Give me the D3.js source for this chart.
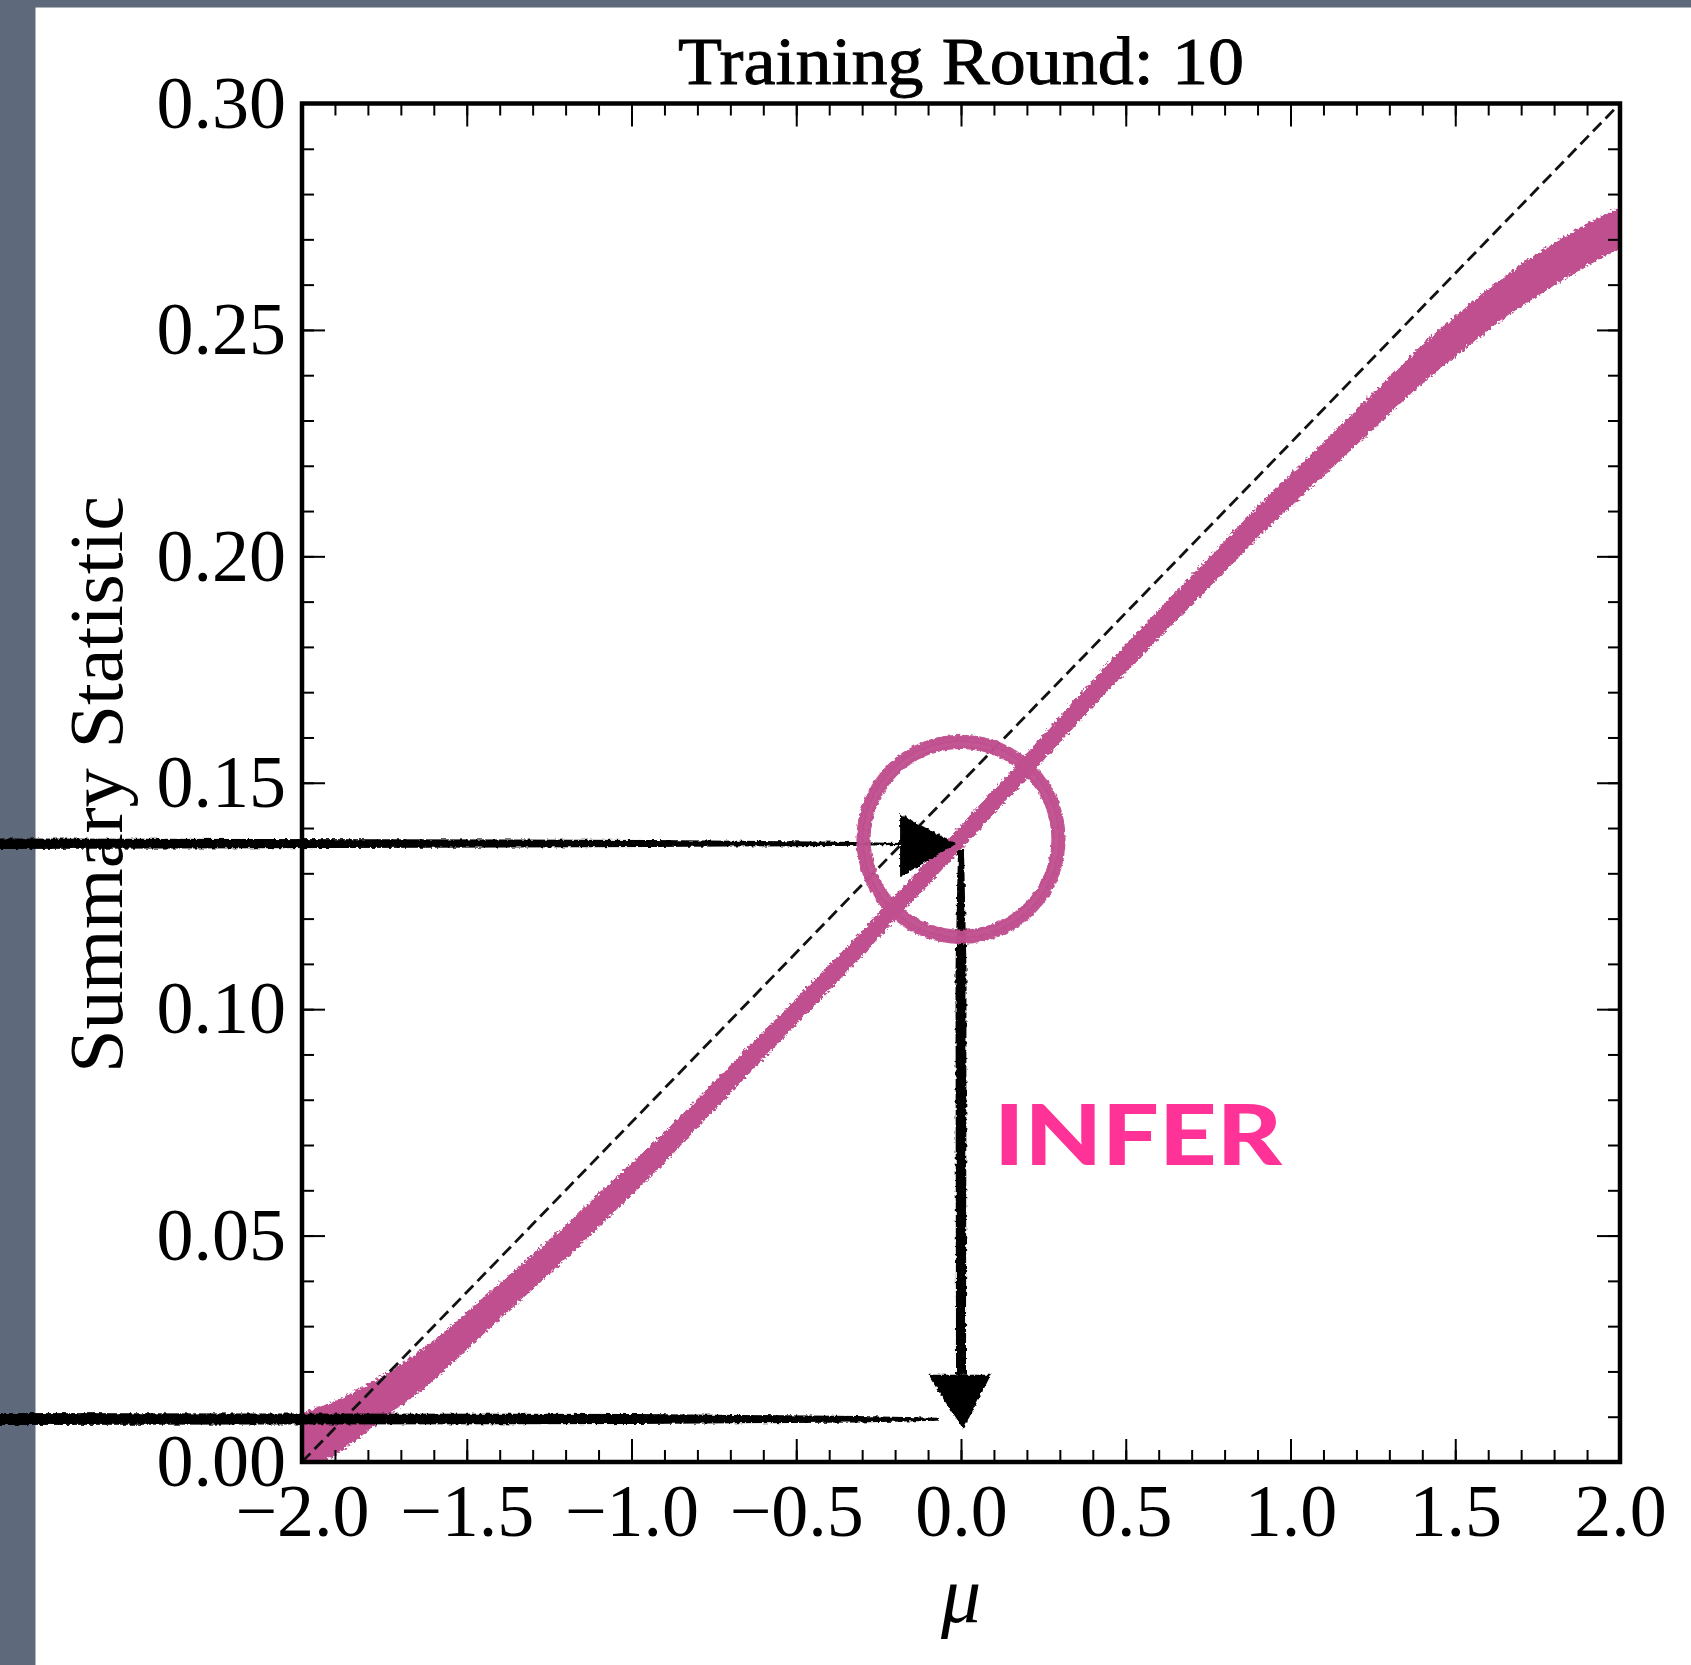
<!DOCTYPE html>
<html>
<head>
<meta charset="utf-8">
<script src="https://cdn.jsdelivr.net/npm/d3@7/dist/d3.min.js"></script>
<style>
  html, body { margin: 0; padding: 0; background: #ffffff; }
  svg { display: block; }
</style>
</head>
<body>
<svg id="chart" width="1691" height="1665"></svg>
<script>
// ---------------- DATA ----------------
const titleText = "Training Round: 10";
const xLabelText = "\u03bc";
const yLabelText = "Summary Statistic";
const xMajorTicks = [-2.0, -1.5, -1.0, -0.5, 0.0, 0.5, 1.0, 1.5, 2.0];
const yMajorTicks = [0.00, 0.05, 0.10, 0.15, 0.20, 0.25, 0.30];
const xMinorTicks = d3.range(-20, 21).map(d => d / 10);
const yMinorTicks = d3.range(0, 31).map(d => d / 100);

// summary-statistic band (centre and half width)
const muValues   = [-2.0, -1.9, -1.8, -1.7, -1.6, -1.5, -1.4, -1.3, -1.2, -1.1, -1.0,
                    -0.9, -0.8, -0.7, -0.6, -0.5, -0.4, -0.3, -0.2, -0.1, 0.0,
                     0.1, 0.2, 0.3, 0.4, 0.5, 0.6, 0.7, 0.8, 0.9, 1.0,
                     1.1, 1.2, 1.3, 1.4, 1.5, 1.6, 1.7, 1.8, 1.9, 2.0];
const statCenter = [0.0040, 0.0075, 0.0120, 0.0170, 0.0225, 0.0290, 0.0355, 0.0420, 0.0485, 0.0555, 0.0625,
                    0.0695, 0.0770, 0.0845, 0.0920, 0.0995, 0.1070, 0.1145, 0.1225, 0.1302, 0.1380,
                    0.1458, 0.1537, 0.1618, 0.1697, 0.1775, 0.1850, 0.1925, 0.2000, 0.2075, 0.2145,
                    0.2215, 0.2285, 0.2355, 0.2425, 0.2485, 0.2545, 0.2598, 0.2645, 0.2688, 0.2725];
const statSpread = [0.0068, 0.0060, 0.0052, 0.0047, 0.0044, 0.0042, 0.0040, 0.0039, 0.0038, 0.0037, 0.0036,
                    0.0034, 0.0032, 0.0031, 0.0030, 0.0029, 0.0028, 0.0028, 0.0027, 0.0027, 0.0027,
                    0.0027, 0.0028, 0.0029, 0.0030, 0.0031, 0.0032, 0.0033, 0.0034, 0.0035, 0.0036,
                    0.0037, 0.0039, 0.0041, 0.0043, 0.0045, 0.0046, 0.0047, 0.0047, 0.0047, 0.0046];

// identity (dashed) reference line endpoints
const refMu   = [-2.0, 2.0];
const refStat = [0.0, 0.3];

// annotation values
const observedStat = 0.1365;   // horizontal arrow level
const arrowTipMu   = -0.015;   // where horizontal arrow ends
const inferredMu   = 0.0;      // vertical arrow position
const inferTipStat = 0.0071;   // vertical arrow tip
const lowerStat    = 0.0095;   // lower horizontal stroke
const lowerEndMu   = -0.07;
const circleMu     = 0.0;
const circleStat   = 0.1375;
const circleRadMu  = 0.30;     // ring radius in mu units
const inferLabel   = "INFER";
const inferLabelMu = 0.10;
const inferLabelStat = 0.0655;

// ---------------- LAYOUT ----------------
const W = 1691, H = 1665;
const svg = d3.select("#chart");
const plotL = 302, plotR = 1620, plotT = 103.5, plotB = 1462;
const x = d3.scaleLinear().domain([-2, 2]).range([plotL, plotR]);
const y = d3.scaleLinear().domain([0, 0.3]).range([plotB, plotT]);

const serif = "'Liberation Serif', 'DejaVu Serif', serif";
const pink = "#c0508f";

// defs
const defs = svg.append("defs");
const rough = defs.append("filter").attr("id", "rough").attr("x", "-5%").attr("y", "-20%").attr("width", "110%").attr("height", "140%");
rough.append("feTurbulence").attr("type", "fractalNoise").attr("baseFrequency", "0.25").attr("numOctaves", 2).attr("seed", 4).attr("result", "n");
rough.append("feDisplacementMap").attr("in", "SourceGraphic").attr("in2", "n").attr("scale", 4).attr("xChannelSelector", "R").attr("yChannelSelector", "G");

const speck = defs.append("filter").attr("id", "speck").attr("x", "-5%").attr("y", "-5%").attr("width", "110%").attr("height", "110%");
speck.append("feTurbulence").attr("type", "fractalNoise").attr("baseFrequency", "0.35").attr("numOctaves", 2).attr("seed", 9).attr("result", "n");
speck.append("feDisplacementMap").attr("in", "SourceGraphic").attr("in2", "n").attr("scale", 7).attr("xChannelSelector", "R").attr("yChannelSelector", "G");

defs.append("clipPath").attr("id", "plotClip").append("rect")
  .attr("x", plotL).attr("y", plotT).attr("width", plotR - plotL).attr("height", plotB - plotT);

// background
svg.append("rect").attr("x", 0).attr("y", 0).attr("width", W).attr("height", H).attr("fill", "#ffffff");
svg.append("rect").attr("x", 0).attr("y", 0).attr("width", W).attr("height", 7.5).attr("fill", "#5e697b");
svg.append("rect").attr("x", 0).attr("y", 0).attr("width", 35.5).attr("height", H).attr("fill", "#5e697b");

// ---------------- BAND ----------------
const bandData = muValues.map((m, i) => ({ m, c: statCenter[i], s: statSpread[i] }));
const area = d3.area()
  .x(d => x(d.m))
  .y0(d => y(d.c - d.s))
  .y1(d => y(d.c + d.s))
  .curve(d3.curveCatmullRom);
const bandG = svg.append("g").attr("clip-path", "url(#plotClip)");
bandG.append("path").datum(bandData).attr("d", area)
  .attr("fill", pink).attr("filter", "url(#speck)");

// dashed identity line
const line = d3.line().x(d => x(d[0])).y(d => y(d[1]));
svg.append("path").datum(refMu.map((m, i) => [m, refStat[i]]))
  .attr("d", line).attr("fill", "none").attr("stroke", "#111")
  .attr("stroke-width", 2.8).attr("stroke-dasharray", "12,6");

// ---------------- AXES ----------------
const fmtX = d => (d < 0 ? "\u2212" : "") + Math.abs(d).toFixed(1);
const fmtY = d => d.toFixed(2);
const MAJ = 23, MIN = 12;

function styleAxis(g) {
  g.select(".domain").remove();
  g.selectAll(".tick line").attr("stroke", "#000").attr("stroke-width", 2);
  g.selectAll("text").attr("font-family", serif).attr("font-size", 74).attr("fill", "#000");
}
// bottom
svg.append("g").attr("transform", `translate(0,${plotB})`)
  .call(d3.axisBottom(x).tickValues(xMinorTicks).tickSize(-MIN).tickFormat("")).call(styleAxis);
svg.append("g").attr("transform", `translate(0,${plotB})`)
  .call(d3.axisBottom(x).tickValues(xMajorTicks).tickSize(-MAJ).tickPadding(21).tickFormat(fmtX)).call(styleAxis);
// top
svg.append("g").attr("transform", `translate(0,${plotT})`)
  .call(d3.axisTop(x).tickValues(xMinorTicks).tickSize(-MIN).tickFormat("")).call(styleAxis);
svg.append("g").attr("transform", `translate(0,${plotT})`)
  .call(d3.axisTop(x).tickValues(xMajorTicks).tickSize(-MAJ).tickFormat("")).call(styleAxis);
// left
svg.append("g").attr("transform", `translate(${plotL},0)`)
  .call(d3.axisLeft(y).tickValues(yMinorTicks).tickSize(-MIN).tickFormat("")).call(styleAxis);
svg.append("g").attr("transform", `translate(${plotL},0)`)
  .call(d3.axisLeft(y).tickValues(yMajorTicks).tickSize(-MAJ).tickPadding(16).tickFormat(fmtY)).call(styleAxis);
// right
svg.append("g").attr("transform", `translate(${plotR},0)`)
  .call(d3.axisRight(y).tickValues(yMinorTicks).tickSize(-MIN).tickFormat("")).call(styleAxis);
svg.append("g").attr("transform", `translate(${plotR},0)`)
  .call(d3.axisRight(y).tickValues(yMajorTicks).tickSize(-MAJ).tickFormat("")).call(styleAxis);

// frame
svg.append("rect").attr("x", plotL).attr("y", plotT)
  .attr("width", plotR - plotL).attr("height", plotB - plotT)
  .attr("fill", "none").attr("stroke", "#000").attr("stroke-width", 4.5);

// titles
svg.append("text").attr("x", (plotL + plotR) / 2).attr("y", 84)
  .attr("text-anchor", "middle").attr("font-family", serif).attr("font-size", 68)
  .attr("fill", "#000").attr("stroke", "#000").attr("stroke-width", 0.9)
  .attr("textLength", 566).attr("lengthAdjust", "spacingAndGlyphs")
  .text(titleText);
svg.append("text").attr("x", (plotL + plotR) / 2).attr("y", 1622)
  .attr("text-anchor", "middle").attr("font-family", serif).attr("font-style", "italic")
  .attr("font-size", 80).attr("fill", "#000").text(xLabelText);
svg.append("text").attr("transform", `translate(122,${(496 + 1073) / 2}) rotate(-90)`)
  .attr("text-anchor", "middle").attr("font-family", serif).attr("font-size", 76)
  .attr("fill", "#000").attr("textLength", 577).attr("lengthAdjust", "spacingAndGlyphs")
  .text(yLabelText);

// ---------------- ANNOTATIONS ----------------
const ann = svg.append("g");
function poly(pts) { return "M" + pts.map(p => p.join(",")).join("L") + "Z"; }

// horizontal arrow (observed statistic)
const hy = y(observedStat), hTip = x(arrowTipMu), hBase = hTip - 56;
ann.append("path").attr("d", poly([[0, hy - 5.5], [hBase - 250, hy - 4], [hBase - 60, hy - 2.2], [hBase, hy - 1],
                                   [hBase, hy + 1], [hBase - 60, hy + 2], [hBase - 250, hy + 3.2], [0, hy + 5]]))
  .attr("fill", "#000").attr("filter", "url(#rough)");
ann.append("path").attr("d", poly([[hBase, hy - 30], [hTip, hy], [hBase, hy + 33]]))
  .attr("fill", "#000").attr("filter", "url(#rough)");

// vertical arrow (inferred mu)
const vx = x(inferredMu), vTip = y(inferTipStat), vBase = vTip - 55, vTop = hy + 6;
ann.append("path").attr("d", poly([[vx - 3, vTop], [vx + 3, vTop], [vx + 5.5, vTop + 120], [vx + 5, vBase],
                                   [vx - 5, vBase], [vx - 5.5, vTop + 120]]))
  .attr("fill", "#000").attr("filter", "url(#rough)");
ann.append("path").attr("d", poly([[vx - 33, vBase], [vx + 30, vBase], [vx + 2, vTip]]))
  .attr("fill", "#000").attr("filter", "url(#rough)");

// lower horizontal stroke
const ly = y(lowerStat), lEnd = x(lowerEndMu);
ann.append("path").attr("d", poly([[0, ly - 6], [lEnd - 300, ly - 5], [lEnd - 80, ly - 3], [lEnd, ly - 1.2],
                                   [lEnd, ly + 1.8], [lEnd - 80, ly + 3.5], [lEnd - 300, ly + 5], [0, ly + 6]]))
  .attr("fill", "#000").attr("filter", "url(#rough)");

// pink ring
const cx = x(circleMu), cy = y(circleStat), cr = x(circleMu + circleRadMu) - x(circleMu);
[[cr - 3, 8], [cr + 1, 5.5], [cr + 4, 3.5], [cr - 7, 3]].forEach(([r, w]) => {
  ann.append("circle").attr("cx", cx).attr("cy", cy).attr("r", r)
    .attr("fill", "none").attr("stroke", pink).attr("stroke-width", w)
    .attr("opacity", 0.95).attr("filter", "url(#rough)");
});

// INFER label
svg.append("text").attr("x", x(inferLabelMu)).attr("y", y(inferLabelStat))
  .attr("font-family", "Lato, 'Open Sans', sans-serif").attr("font-weight", 900)
  .attr("font-size", 84).attr("fill", "#ff3397")
  .attr("textLength", 288).attr("lengthAdjust", "spacingAndGlyphs")
  .text(inferLabel);
</script>
</body>
</html>
